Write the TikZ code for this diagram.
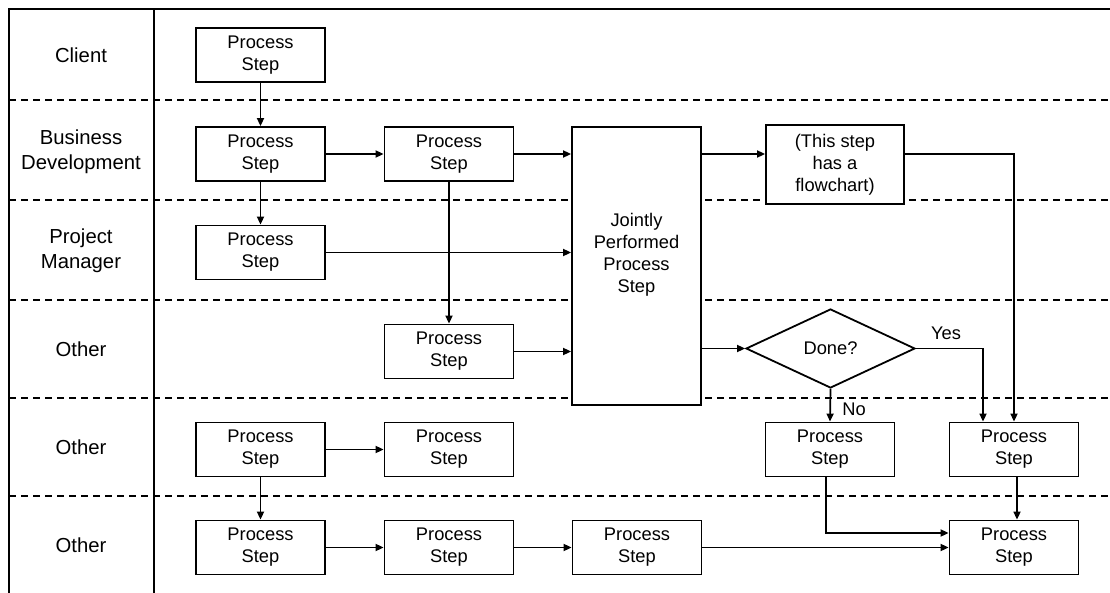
\documentclass[tikz,border=0pt]{standalone}
\usepackage{fontspec}
\setmainfont{Liberation Sans}
\usetikzlibrary{arrows.meta,shapes.geometric}
\begin{document}
\begin{tikzpicture}[x=1pt,y=-1pt,
  stepbox/.style={draw,fill=white,line width=1.8pt,minimum width=129pt,minimum height=54pt,inner sep=2pt,align=center,font=\fontsize{18.3}{22}\selectfont},
  lane/.style={align=center,font=\fontsize{20.3}{25.5}\selectfont},
  lbl/.style={font=\fontsize{18.3}{22}\selectfont},
  arr/.style={line width=1.7pt,-{Triangle[length=8pt,width=7pt]}},
  sep/.style={line width=1.4pt,dash pattern=on 7pt off 5pt},
  frame/.style={line width=1.8pt}]
\useasboundingbox (0,0) rectangle (1110,593);
% frame
\draw[frame] (9,593) -- (9,9) -- (1110,9);
\draw[frame] (154,9) -- (154,593);
\foreach \yy in {100,200,300,398,496} \draw[sep] (9,\yy) -- (1110,\yy);
% lane labels
\node[lane] (l1) at (81,55) {Client};
\node[lane] (l2) at (81,152) {Business\\Development};
\node[lane] (l3) at (81,251) {Project\\Manager};
\node[lane] (l4) at (81,349) {Other};
\node[lane] (l5) at (81,447) {Other};
\node[lane] (l6) at (81,545) {Other};
% nodes
\node[stepbox] (c1) at (260.5,55) {Process\\Step};
\node[stepbox] (b1) at (260.5,154) {Process\\Step};
\node[stepbox] (b2) at (449,154) {Process\\Step};
\node[stepbox,minimum height=278pt] (j) at (636.5,266) {};
\node[align=center,font=\fontsize{18.3}{22}\selectfont] (jt) at (636.5,255) {Jointly\\Performed\\Process\\Step};
\node[stepbox,minimum width=138pt,minimum height=79pt] (fc) at (835,164.5) {(This step\\has a\\flowchart)};
\node[stepbox] (pm) at (260.5,252.5) {Process\\Step};
\node[stepbox] (o1) at (449,351.5) {Process\\Step};
\node[draw,fill=white,diamond,line width=1.8pt,minimum width=169pt,minimum height=79pt,inner sep=0pt,font=\fontsize{18.3}{22}\selectfont] (d) at (830.5,348.5) {Done?};
\node[stepbox] (o2a) at (260.5,449.5) {Process\\Step};
\node[stepbox] (o2b) at (449,449.5) {Process\\Step};
\node[stepbox] (no) at (830,449.5) {Process\\Step};
\node[stepbox] (ys) at (1014,449.5) {Process\\Step};
\node[stepbox] (o3a) at (260.5,547.5) {Process\\Step};
\node[stepbox] (o3b) at (449,547.5) {Process\\Step};
\node[stepbox] (o3c) at (637,547.5) {Process\\Step};
\node[stepbox] (fin) at (1014,547.5) {Process\\Step};
% labels
\node[lbl] (yes) at (946,333) {Yes};
\node[lbl] (nol) at (854,409) {No};
% connectors
\draw[arr] (c1) -- (b1);
\draw[arr] (b1) -- (b2);
\draw[arr] (b2) -- (b2 -| j.west);
\draw[arr] (b1) -- (pm);
\draw[arr] (pm) -- (pm -| j.west);
\draw[arr] (b2) -- (o1);
\draw[arr] (o1) -- (o1 -| j.west);
\draw[arr] (j.east |- b2) -- (fc.west |- b2);
\draw[arr] (fc.east |- b2) -| (ys.north);
\draw[arr] (j.east |- d.west) -- (d.west);
\draw[arr] (d.east) -| ([xshift=-31pt]ys.north);
\draw[arr] (d.south) -- (no.north);
\draw[arr] (o2a) -- (o2b);
\draw[arr] (o2a) -- (o3a);
\draw[arr] (o3a) -- (o3b);
\draw[arr] (o3b) -- (o3c);
\draw[arr] (o3c) -- (fin);
\draw[arr] ([xshift=-4pt]no.south) |- ([yshift=14.5pt]fin.west);
\draw[arr] ([xshift=3pt]ys.south) -- ([xshift=3pt]fin.north);
\end{tikzpicture}
\end{document}
